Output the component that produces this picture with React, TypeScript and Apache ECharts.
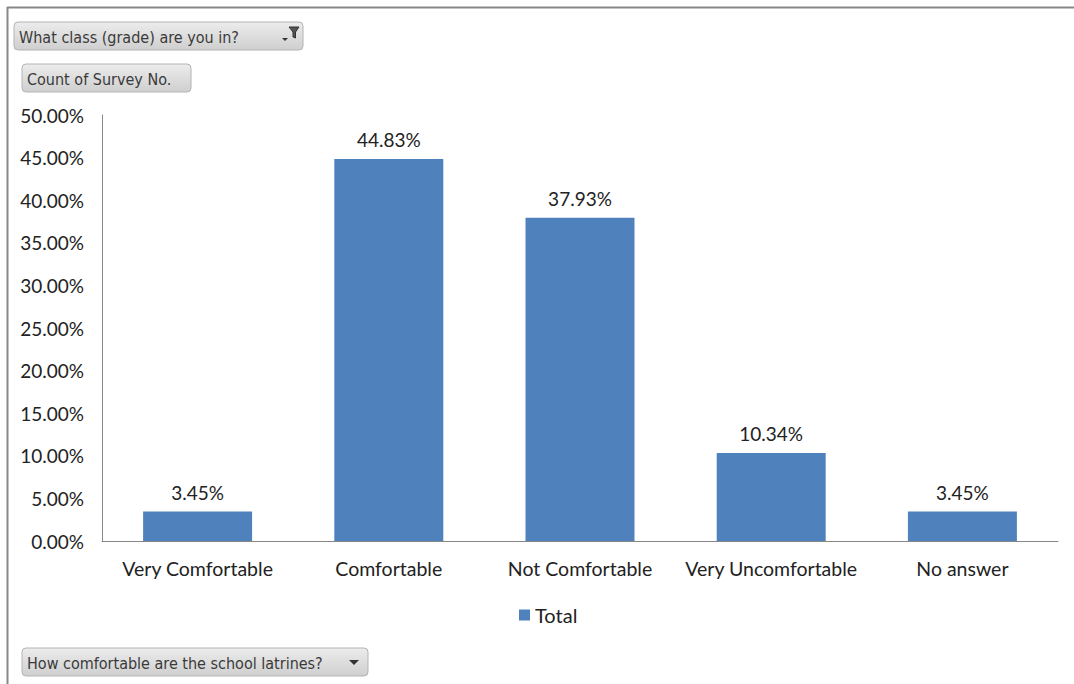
import React, { useEffect, useRef } from "react";
import * as echarts from "echarts";

const categories = ["Very Comfortable", "Comfortable", "Not Comfortable", "Very Uncomfortable", "No answer"];
const totalValues = [0.0345, 0.4483, 0.3793, 0.1034, 0.0345];
const seriesName = "Total";
const filterButtonLabel = "What class (grade) are you in?";
const valueButtonLabel = "Count of Survey No.";
const axisButtonLabel = "How comfortable are the school latrines?";

const FONT = "Lato, 'Open Sans', sans-serif";

function button(x: number, y: number, w: number, h: number, label: string) {
  return [
    {
      type: "rect",
      shape: { x, y, width: w, height: h, r: 4 },
      style: {
        fill: new echarts.graphic.LinearGradient(0, 0, 0, 1, [
          { offset: 0, color: "#ececec" },
          { offset: 1, color: "#cfcfcf" },
        ]),
        stroke: "#b4b4b4",
        lineWidth: 1,
      },
    },
    {
      type: "text",
      x: x + 5,
      y: y + h / 2 + 1,
      style: {
        text: label,
        font: `16px 'DejaVu Sans Condensed', 'Liberation Sans Narrow', ${FONT}`,
        fill: "#3a3a3a",
        verticalAlign: "middle",
      },
    },
  ];
}

export default function App() {
  const ref = useRef<HTMLDivElement>(null);
  useEffect(() => {
    document.body.style.margin = "0";
    const chart = echarts.init(ref.current!, null, { renderer: "svg" });
    const graphics: any[] = [
      { type: "line", shape: { x1: 7, y1: 7.5, x2: 1074, y2: 7.5 }, style: { stroke: "#878787", lineWidth: 2 } },
      { type: "line", shape: { x1: 7.5, y1: 7, x2: 7.5, y2: 684 }, style: { stroke: "#878787", lineWidth: 2 } },
      ...button(14, 22, 289, 28, filterButtonLabel),
      // filter icon
      { type: "polygon", shape: { points: [[289, 27], [299, 27], [295.5, 32], [295.5, 38], [293, 37], [293, 32]] }, style: { fill: "#555", stroke: "#333", lineWidth: 1 } },
      { type: "polygon", shape: { points: [[282, 38], [288, 38], [285, 41]] }, style: { fill: "#333" } },
      ...button(22, 64, 169, 28, valueButtonLabel),
      ...button(22, 648, 346, 28, axisButtonLabel),
      { type: "polygon", shape: { points: [[349, 660], [359, 660], [354, 665]] }, style: { fill: "#333" } },
    ];
    chart.setOption({
      animation: false,
      backgroundColor: "#ffffff",
      textStyle: { fontFamily: FONT },
      grid: { left: 102, right: 16, top: 115, bottom: 143, containLabel: false },
      legend: {
        data: [seriesName],
        top: 600,
        left: 514,
        itemWidth: 11,
        itemHeight: 11,
        itemGap: 6,
        icon: "rect",
        textStyle: { fontSize: 20, color: "#222", fontFamily: FONT },
      },
      xAxis: {
        type: "category",
        data: categories,
        axisLine: { show: true, lineStyle: { color: "#868686", width: 1 } },
        axisTick: { show: false },
        axisLabel: { fontSize: 19.5, color: "#222", margin: 17, fontFamily: FONT, interval: 0 },
      },
      yAxis: {
        type: "value",
        min: 0,
        max: 0.5,
        interval: 0.05,
        axisLine: { show: true, lineStyle: { color: "#868686", width: 1 } },
        axisTick: { show: false },
        splitLine: { show: false },
        axisLabel: {
          fontSize: 19,
          color: "#222",
          margin: 18,
          fontFamily: FONT,
          formatter: (v: number) => (v * 100).toFixed(2) + "%",
        },
      },
      series: [
        {
          name: seriesName,
          type: "bar",
          data: totalValues,
          barCategoryGap: "43%",
          itemStyle: { color: "#4F81BD" },
          label: {
            show: true,
            position: "top",
            distance: 10,
            fontSize: 19,
            color: "#222",
            fontFamily: FONT,
            formatter: (p: any) => (p.value * 100).toFixed(2) + "%",
          },
        },
      ],
      graphic: graphics,
    });
    return () => chart.dispose();
  }, []);
  return <div ref={ref} style={{ position: "absolute", left: 0, top: 0, width: 1074, height: 684 }} />;
}
